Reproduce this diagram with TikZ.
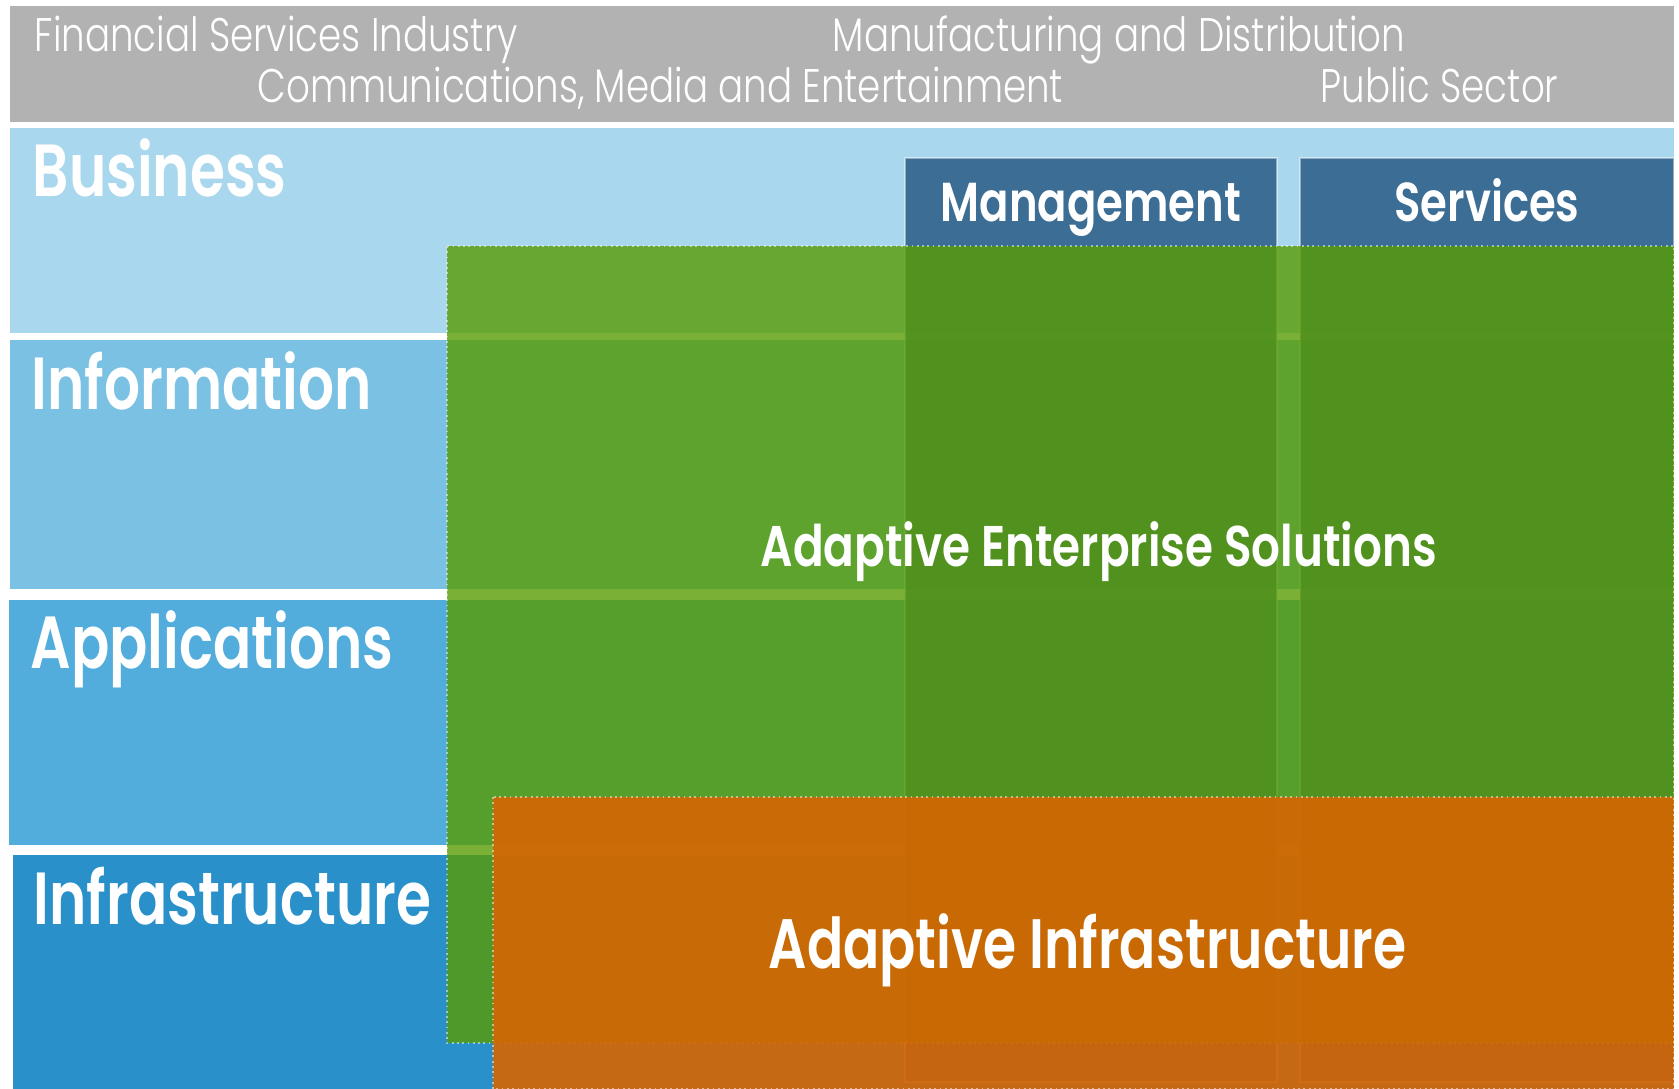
\documentclass[tikz,border=0pt]{standalone}
\usepackage{fontspec}
\setmainfont{Poppins}
\newfontfamily\headfont[FakeStretch=0.79]{Poppins Light}
\newfontfamily\labelfont[FakeStretch=0.765]{Poppins SemiBold}
\newfontfamily\colfont[FakeStretch=0.79]{Poppins SemiBold}
\definecolor{headgray}{RGB}{178,178,178}
\definecolor{busblue}{RGB}{169,215,237}
\definecolor{infoblue}{RGB}{123,193,228}
\definecolor{appblue}{RGB}{82,172,220}
\definecolor{infrablue}{RGB}{42,144,202}
\definecolor{colblue}{RGB}{51,100,142}
\definecolor{aesgreen}{RGB}{88,156,2}
\definecolor{aiorange}{RGB}{214,101,2}
\tikzset{%
  headtext/.style = {text=white, inner sep=0pt, anchor=base west,
        font=\headfont\fontsize{13.4}{16}\selectfont},
  layertext/.style = {text=white, inner sep=0pt, anchor=base west,
        font=\labelfont\fontsize{21}{25}\selectfont},
  coltext/.style = {text=white, inner sep=0pt, anchor=base,
        font=\colfont\fontsize{15.6}{18}\selectfont},
  column/.style = {fill=colblue, fill opacity=0.92, draw=white,
        draw opacity=0.45, line width=0.5pt},
  overlay/.style = {draw=white, draw opacity=0.5, line width=0.5pt,
        densely dotted}
}
\begin{document}
\begin{tikzpicture}[x=0.01cm, y=-0.01cm]
  \useasboundingbox (0,0) rectangle (1679,1089);

  % industries
  \fill[headgray] (10,6) rectangle (1674,122);
  \node[headtext] (fsi) at (34,52) {Financial Services Industry};
  \node[headtext] (mad) at (832,52) {Manufacturing and Distribution};
  \node[headtext] (cme) at (257,103) {Communications, Media and Entertainment};
  \node[headtext] (pub) at (1320,103) {Public Sector};

  % layers
  \fill[busblue] (10,128) rectangle (1674,333);
  \fill[infoblue] (10,340) rectangle (1674,589);
  \fill[appblue] (9,600) rectangle (1674,845);
  \fill[infrablue] (13,855) rectangle (1674,1089);
  \node[layertext] (business) at (32,197) {Business};
  \node[layertext] (information) at (31,410) {Information};
  \node[layertext] (applications) at (30,669) {Applications};
  \node[layertext] (infrastructure) at (33,925) {Infrastructure};

  % management and services
  \draw[column] (905,158) rectangle (1277,1082);
  \draw[column] (1300,158) rectangle (1674,1082);
  \node[coltext] (management) at (1091,222) {Management};
  \node[coltext] (services) at (1487,222) {Services};

  % solutions and infrastructure
  \draw[overlay, fill=aesgreen, fill opacity=0.8] (447,246) rectangle (1674,1043);
  \draw[overlay, fill=aiorange, fill opacity=0.9] (493,797) rectangle (1674,1089);
  \node[coltext, anchor=base west, font=\colfont\fontsize{16.3}{19}\selectfont]
    (aes) at (760,567) {Adaptive Enterprise Solutions};
  \node[layertext, font=\labelfont\fontsize{19.9}{24}\selectfont]
    (ai) at (768,968) {Adaptive Infrastructure};
\end{tikzpicture}
\end{document}
